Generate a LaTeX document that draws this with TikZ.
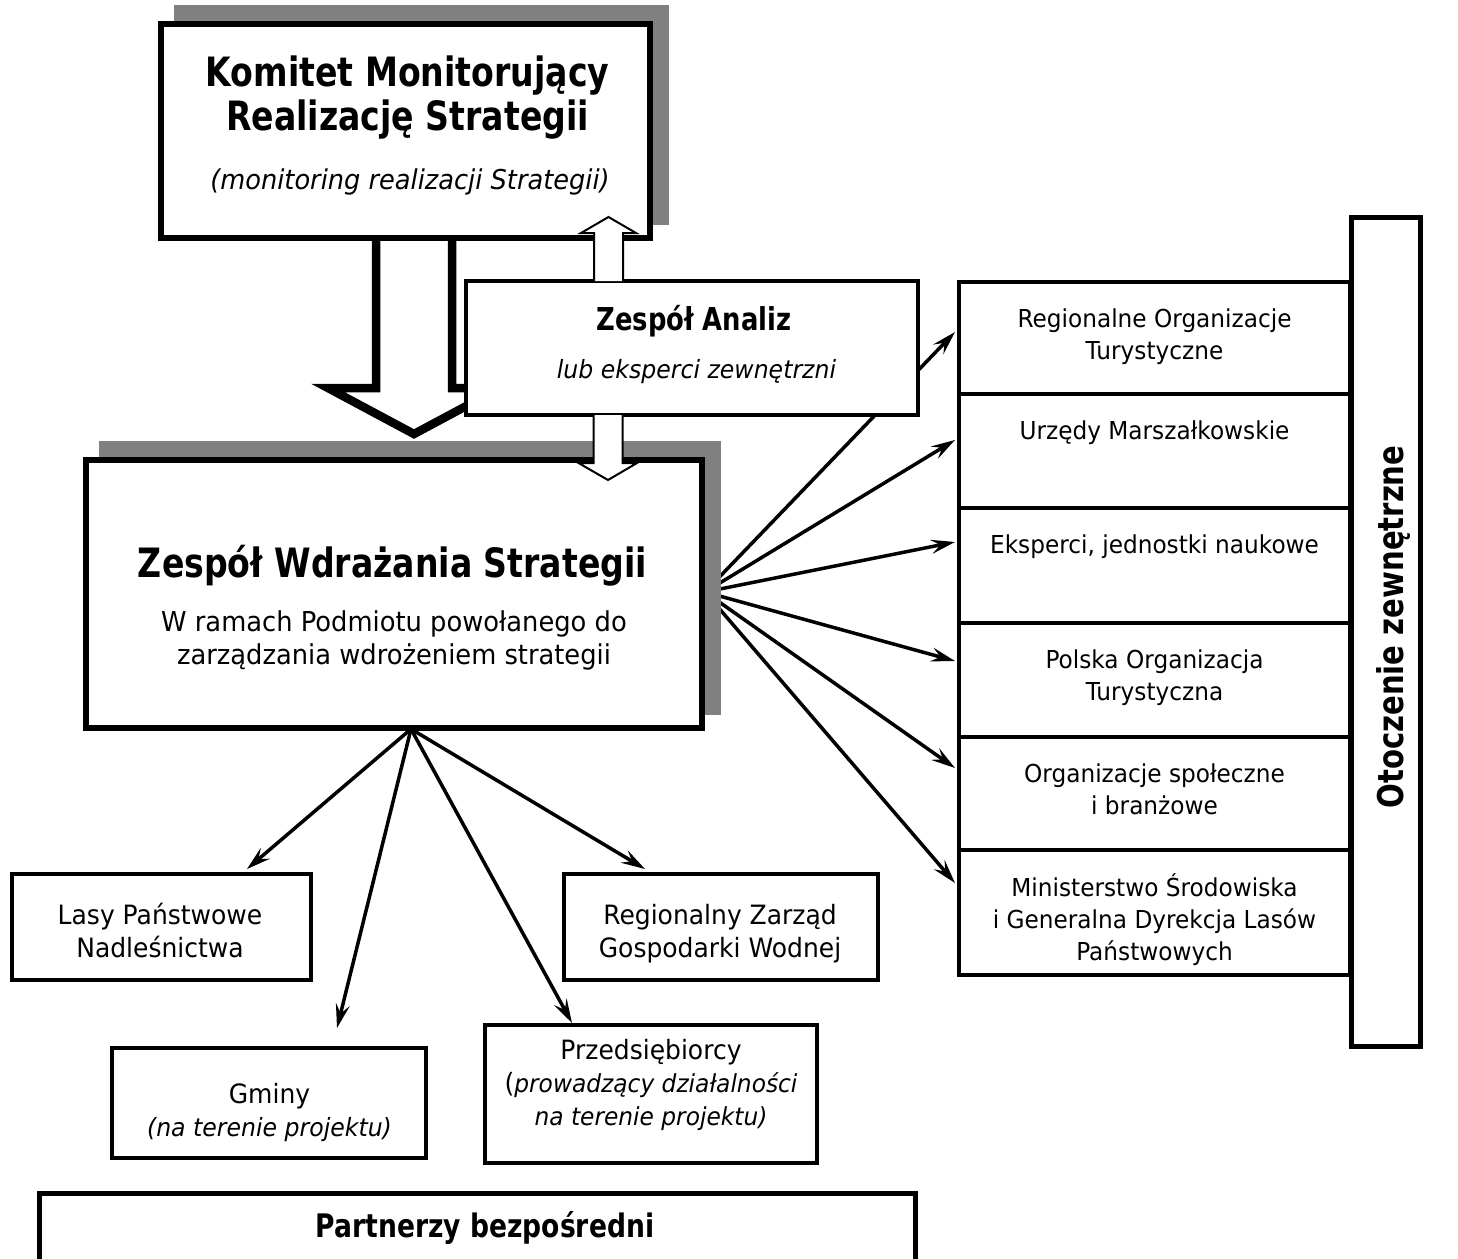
\documentclass[tikz,border=0pt]{standalone}
\usepackage{fontspec}
\setmainfont{DejaVu Sans}[FakeStretch=0.94]
\newfontfamily\tb{DejaVu Sans}[FakeStretch=0.82]
\usetikzlibrary{arrows.meta}
\definecolor{shadowgray}{HTML}{808080}
\newcommand{\fsz}[2]{\fontsize{#1}{#2}\selectfont}
\newcommand{\colcontent}[2]{\parbox[c][#1][t]{391pt}{\centering\fsz{24.7}{32}\vspace*{23.5pt}\strut #2\par}}
\begin{document}
\begin{tikzpicture}[x=1pt,y=-1pt,
  mainbox/.style={rectangle, draw=black, fill=white, line width=6pt, inner sep=0pt},
  thinbox/.style={rectangle, draw=black, fill=white, line width=4pt, inner sep=0pt},
  colbox/.style={rectangle, draw=black, fill=white, line width=4pt, inner sep=0pt, minimum width=391pt},
  txt/.style={inner sep=0pt, align=center},
  bigbold/.style={txt, anchor=base, font=\tb\bfseries\fsz{40.4}{44}},
  bodytxt/.style={txt, font=\fsz{26.6}{33}},
  fan/.style={draw=black, line width=3.5pt, -{Stealth[length=24pt,width=14pt,inset=9pt]}},
  blockarrow/.style={draw=black, fill=white, line width=8.5pt, line join=miter},
  whitearrow/.style={draw=black, fill=white, line width=2pt, line join=miter},
  shadowrect/.style={fill=shadowgray, draw=none}
]
\useasboundingbox (0,0) rectangle (1458,1258);
\fill[white] (0,0) rectangle (1458,1258);

% ---------- right column ----------
\node[colbox, minimum height=111.5pt] (r1) at (1154.5,337.75) {\colcontent{111.5pt}{Regionalne Organizacje\\Turystyczne}};
\node[colbox, minimum height=114.5pt] (r2) at (1154.5,450.75) {\colcontent{114.5pt}{Urzędy Marszałkowskie}};
\node[colbox, minimum height=114.5pt] (r3) at (1154.5,565.25) {\colcontent{114.5pt}{Eksperci, jednostki naukowe}};
\node[colbox, minimum height=114pt] (r4) at (1154.5,679.5) {\colcontent{114pt}{Polska Organizacja\\Turystyczna}};
\node[colbox, minimum height=113.5pt] (r5) at (1154.5,793.25) {\colcontent{113.5pt}{Organizacje społeczne\\i branżowe}};
\node[colbox, minimum height=124.5pt] (r6) at (1154.5,912.25) {\colcontent{124.5pt}{Ministerstwo Środowiska\\i Generalna Dyrekcja Lasów\\Państwowych}};
\node[rectangle, draw=black, fill=white, line width=5pt, inner sep=0pt, minimum width=69pt, minimum height=829pt] (O) at (1386,632) {};
\node[txt, rotate=90, font=\tb\bfseries\fsz{35.5}{40}] (Ot) at (1393,627) {Otoczenie zewnętrzne};

% ---------- lower boxes ----------
\node[thinbox, minimum width=299pt, minimum height=106pt] (L) at (161.5,927) {};
\node[thinbox, minimum width=314pt, minimum height=106pt] (R) at (721,927) {};
\node[thinbox, minimum width=314pt, minimum height=110pt] (G) at (269,1103) {};
\node[thinbox, minimum width=332pt, minimum height=138pt] (P) at (651,1094) {};
\node[rectangle, draw=black, fill=white, line width=5pt, inner sep=0pt, minimum width=876pt, minimum height=81.5pt] (B) at (477.5,1234.25) {};

% ---------- connectors ----------
\coordinate (hubR) at (705,592);
\coordinate (hubB) at (411,729);
\draw[fan] (hubR) -- ([xshift=-2pt,yshift=5.75pt]r1.west);
\draw[fan] (hubR) -- ([xshift=-2pt,yshift=10.75pt]r2.west);
\draw[fan] (hubR) -- ([xshift=-2pt,yshift=23.25pt]r3.west);
\draw[fan] (hubR) -- ([xshift=-2pt,yshift=18.5pt]r4.west);
\draw[fan] (hubR) -- ([xshift=-2pt,yshift=25.25pt]r5.west);
\draw[fan] (hubR) -- ([xshift=-2pt,yshift=29.25pt]r6.west);
\draw[fan] (hubB) -- ([xshift=85.5pt,yshift=3pt]L.north);
\draw[fan] (hubB) -- ([xshift=-76pt,yshift=3pt]R.north);
\draw[fan] (hubB) -- ([xshift=68pt,yshift=18pt]G.north);
\draw[fan] (hubB) -- ([xshift=-79pt]P.north);

% ---------- shadows ----------
\fill[shadowrect] (174,5) rectangle (669,225);
\fill[shadowrect] (99,441) rectangle (721,715);

% ---------- big block arrow ----------
\coordinate (bigTop) at (414,236);
\coordinate (bigTip) at (414,434);
\draw[blockarrow] ([xshift=-38pt]bigTop) -- ++(0,152) -- ++(-48,0) -- (bigTip) -- ++(86,-46) -- ++(-48,0) -- ++(0,-152);

% ---------- main boxes ----------
\node[mainbox, minimum width=489pt, minimum height=214pt] (K) at (405.5,131) {};
\node[mainbox, minimum width=616pt, minimum height=268pt] (Z) at (394,594) {};
\node[thinbox, minimum width=452pt, minimum height=134pt] (A) at (692,348) {};

% ---------- white double arrows ----------
\coordinate (upTip) at (608.5,217);
\coordinate (downTip) at (608,480);
\draw[whitearrow] ([xshift=-14.5pt,yshift=-64pt]upTip) -- ++(0,-48) -- ++(-13,0) -- (upTip) -- ++(27.5,16) -- ++(-13,0) -- ++(0,48);
\draw[whitearrow] ([xshift=-14.5pt,yshift=65pt]downTip) -- ++(0,48) -- ++(-15,0) -- (downTip) -- ++(29,-17) -- ++(-14.5,0) -- ++(0,-48);

% ---------- texts ----------
\node[bigbold] (Kt1) at (407.5,86) {Komitet Monitorujący};
\node[bigbold] (Kt2) at (407.5,130) {Realizację Strategii};
\node[txt, anchor=base, font=\itshape\fsz{27.3}{30}] (Kt3) at (410,189) {(monitoring realizacji Strategii)};
\node[txt, anchor=base, font=\tb\bfseries\fsz{31.5}{36}] (At1) at (694,330) {Zespół Analiz};
\node[txt, anchor=base, font=\itshape\fsz{25.1}{30}] (At2) at (696.5,378) {lub eksperci zewnętrzni};
\node[bigbold] (Zt1) at (392.5,577) {Zespół Wdrażania Strategii};
\node[txt, anchor=base, font=\fsz{27.4}{33}] (Zt2) at (394,631) {W ramach Podmiotu powołanego do};
\node[txt, anchor=base, font=\fsz{27.4}{33}] (Zt3) at (394,664) {zarządzania wdrożeniem strategii};
\node[txt, anchor=base, font=\tb\bfseries\fsz{32.4}{38}] (Bt) at (485,1237) {Partnerzy bezpośredni};
\node[bodytxt] (Lt) at (160,930.5) {Lasy Państwowe\\Nadleśnictwa};
\node[bodytxt] (Rt) at (720,933.5) {Regionalny Zarząd\\Gospodarki Wodnej};
\node[bodytxt] (Gt) at (269.5,1112.5) {Gminy\\{\itshape\fsz{25.1}{33}(na terenie projektu)}};
\node[bodytxt] (Pt) at (651,1085) {Przedsiębiorcy\\({\itshape\fsz{24.8}{33}prowadzący działalności}\\{\itshape\fsz{24.8}{33}na terenie projektu)}};
\end{tikzpicture}
\end{document}
